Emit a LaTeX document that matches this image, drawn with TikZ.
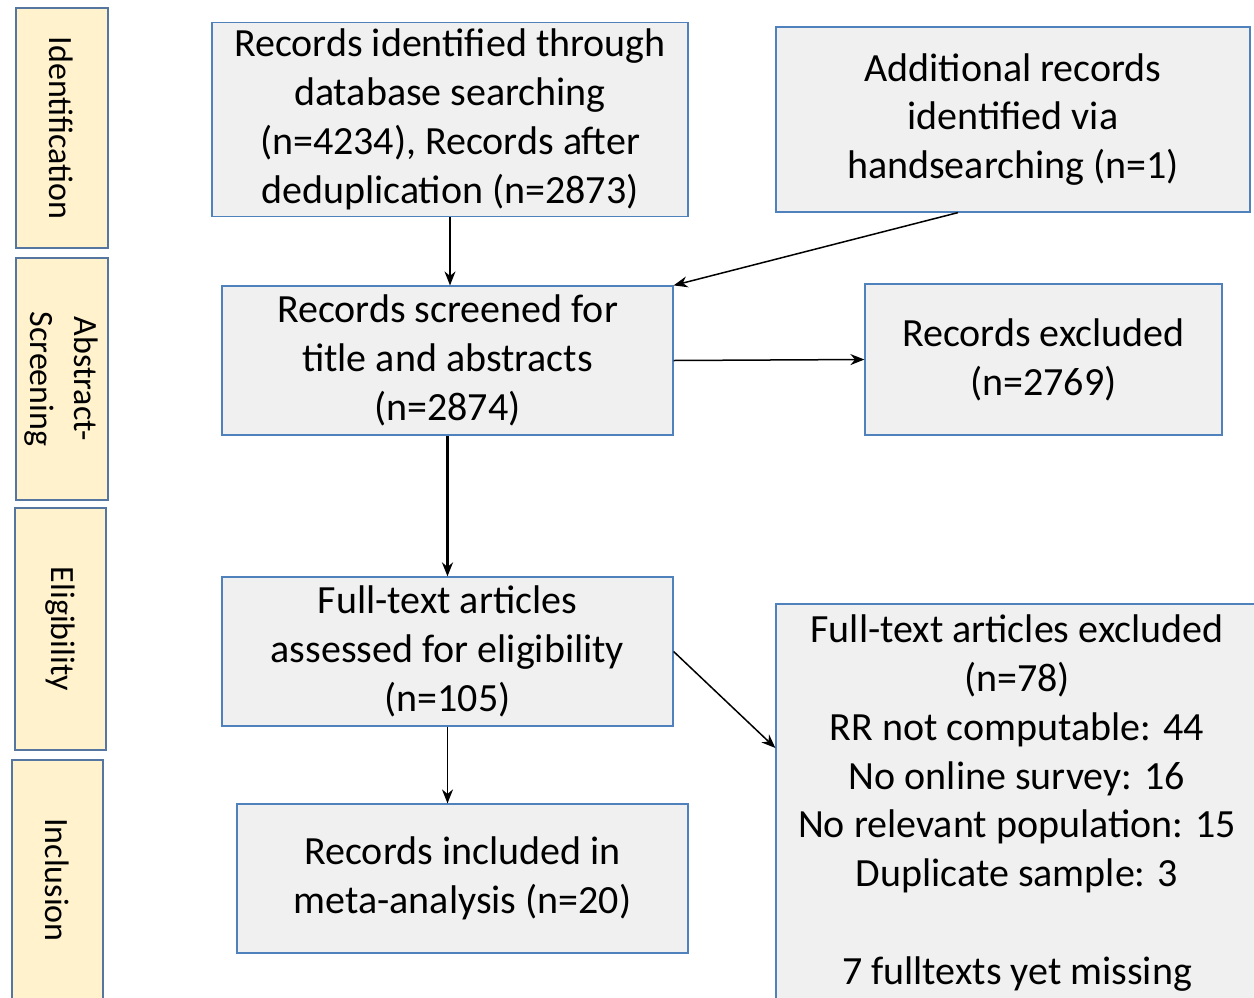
\documentclass[tikz,border=0pt]{standalone}
\usepackage{fontspec}
\setmainfont{Carlito}
\usepackage{tikz}
\usetikzlibrary{arrows.meta,positioning}

\definecolor{phasefill}{RGB}{255,242,204}
\definecolor{phaseline}{RGB}{84,118,160}
\definecolor{boxfill}{RGB}{240,240,240}
\definecolor{boxline}{RGB}{79,129,189}

\begin{document}
\begin{tikzpicture}[
  x=0.5pt, y=-0.5pt,
  phase/.style={rectangle, draw=phaseline, line width=1pt, fill=phasefill, rotate=-90,
    minimum width=120pt, minimum height=46pt, align=center,
    font=\fontsize{17}{22}\selectfont},
  record/.style={rectangle, draw=boxline, line width=0.6pt, fill=boxfill, align=center,
    font=\fontsize{20}{24.4}\selectfont},
  arrow/.style={-{Stealth[length=7pt,width=5.5pt]}, line width=0.75pt}
]

\useasboundingbox (0,0) rectangle (1254,997);

% Phase labels
\node[phase] (idphase) at (61.5,128) {Identification};
\node[phase, minimum width=121pt] (scrphase) at (61.5,379) {Abstract-\\Screening};
\node[phase, minimum width=121pt, minimum height=45.5pt] (elphase) at (60.5,629) {Eligibility};
\node[phase, minimum height=45.5pt] (inphase) at (57.5,880) {Inclusion};

% Flow boxes
\node[record, minimum width=238pt, minimum height=92.5pt] (records) at (450,119.5)
  {Records identified through\\database searching\\(n=4234), Records after\\deduplication (n=2873)};
\node[record, minimum width=237pt, minimum height=92.5pt] (extra) at (1013,119.5)
  {Additional records\\identified via\\handsearching (n=1)};
\node[record, minimum width=225.5pt, minimum height=74.5pt] (screened) at (447.5,360.5)
  {Records screened for\\title and abstracts\\(n=2874)};
\node[record, minimum width=178.5pt, minimum height=75.5pt] (excluded) at (1043.5,359.5)
  {Records excluded\\(n=2769)};
\node[record, minimum width=225.5pt, minimum height=74.5pt] (fulltext) at (447.5,651.5)
  {Full-text articles\\assessed for eligibility\\(n=105)};
\node[record, minimum width=241pt, minimum height=199pt] (ftexcl) at (1017,803)
  {Full-text articles excluded\\(n=78)\\RR not computable: 44\\No online survey: 16\\
   No relevant population: 15\\Duplicate sample: 3\\[24.4pt]7 fulltexts yet missing};
\node[record, minimum width=225.5pt, minimum height=74.5pt] (included) at (462.5,878.5)
  {Records included in\\meta-analysis (n=20)};

% Arrows
\draw[arrow] (records.south) -- (records.south |- screened.north);
\draw[arrow] ([xshift=-27.5pt]extra.south) -- (screened.north east);
\draw[arrow] (screened.east) -- (excluded.west);
\draw[arrow, line width=1.2pt] (screened.south) -- (fulltext.north);
\draw[arrow] (fulltext.east) -- ([yshift=27.5pt]ftexcl.west);
\draw[arrow] (fulltext.south) -- (fulltext.south |- included.north);

\end{tikzpicture}
\end{document}
